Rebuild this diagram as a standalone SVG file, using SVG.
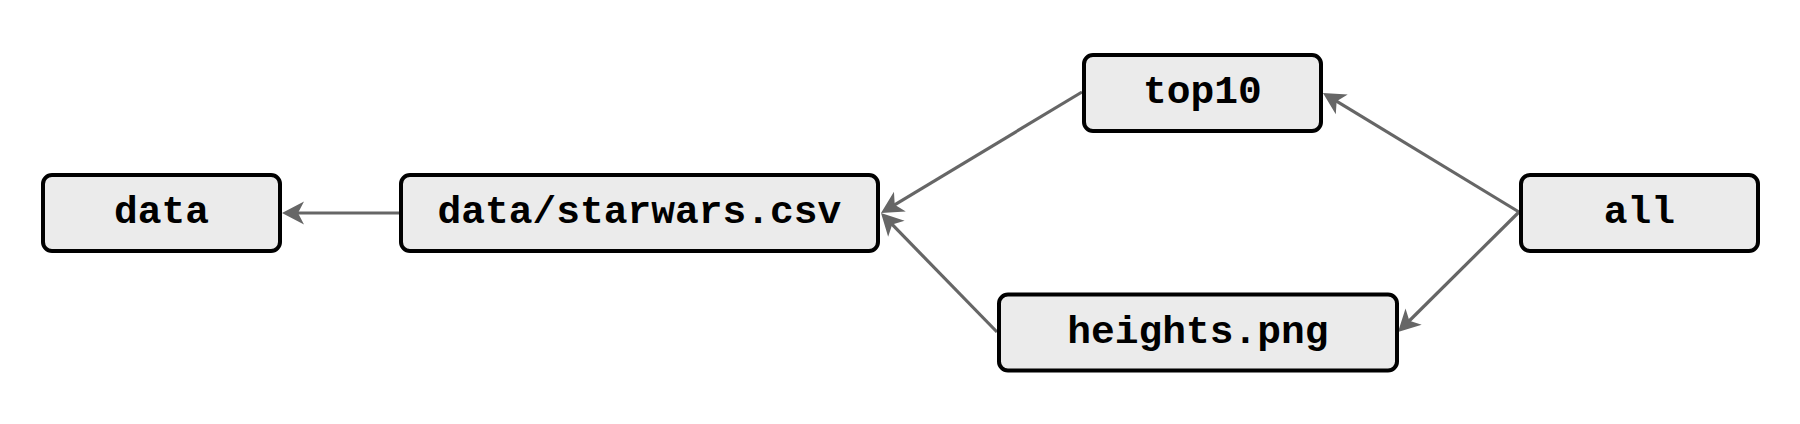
<svg xmlns="http://www.w3.org/2000/svg" width="1800" height="424" viewBox="0 0 1800 424">
<style>
.node rect{fill:#ebebeb;stroke:#000;stroke-width:4}
.node text{font-family:"Liberation Mono","Courier New",monospace;font-weight:bold;font-size:39.6px;fill:#000;text-anchor:middle}
.edge{stroke:#666;stroke-width:3.2;fill:none;marker-end:url(#arr)}
</style>
<defs>
<marker id="arr" markerUnits="userSpaceOnUse" markerWidth="26" markerHeight="26" viewBox="-14 -13 26 26" refX="0" refY="0" orient="auto">
<path d="M10,0 L-12,-11.5 L-6,0 L-12,11.5 Z" fill="#666"/>
</marker>
</defs>
<rect width="1800" height="424" fill="#fff"/>
<g id="connectors">
<line class="edge" x1="400" y1="213" x2="292" y2="213"/>
<line class="edge" x1="1082" y1="92" x2="889.6" y2="207.8"/>
<line class="edge" x1="997" y1="332" x2="888" y2="220.2"/>
<line class="edge" x1="1519" y1="212" x2="1331.5" y2="98.2"/>
<line class="edge" x1="1519" y1="212" x2="1405.1" y2="325"/>
</g>
<g id="node-data" class="node"><rect x="43" y="175" width="237" height="76" rx="9"/><text x="161.5" y="223">data</text></g>
<g id="node-csv" class="node"><rect x="401" y="175" width="477" height="76" rx="9"/><text x="639.5" y="223">data/starwars.csv</text></g>
<g id="node-top10" class="node"><rect x="1084" y="55" width="237" height="76" rx="9"/><text x="1202.5" y="103">top10</text></g>
<g id="node-heights" class="node"><rect x="999" y="294.5" width="398" height="76" rx="9"/><text x="1198" y="343">heights.png</text></g>
<g id="node-all" class="node"><rect x="1521" y="175" width="237" height="76" rx="9"/><text x="1639.5" y="223">all</text></g>
</svg>
